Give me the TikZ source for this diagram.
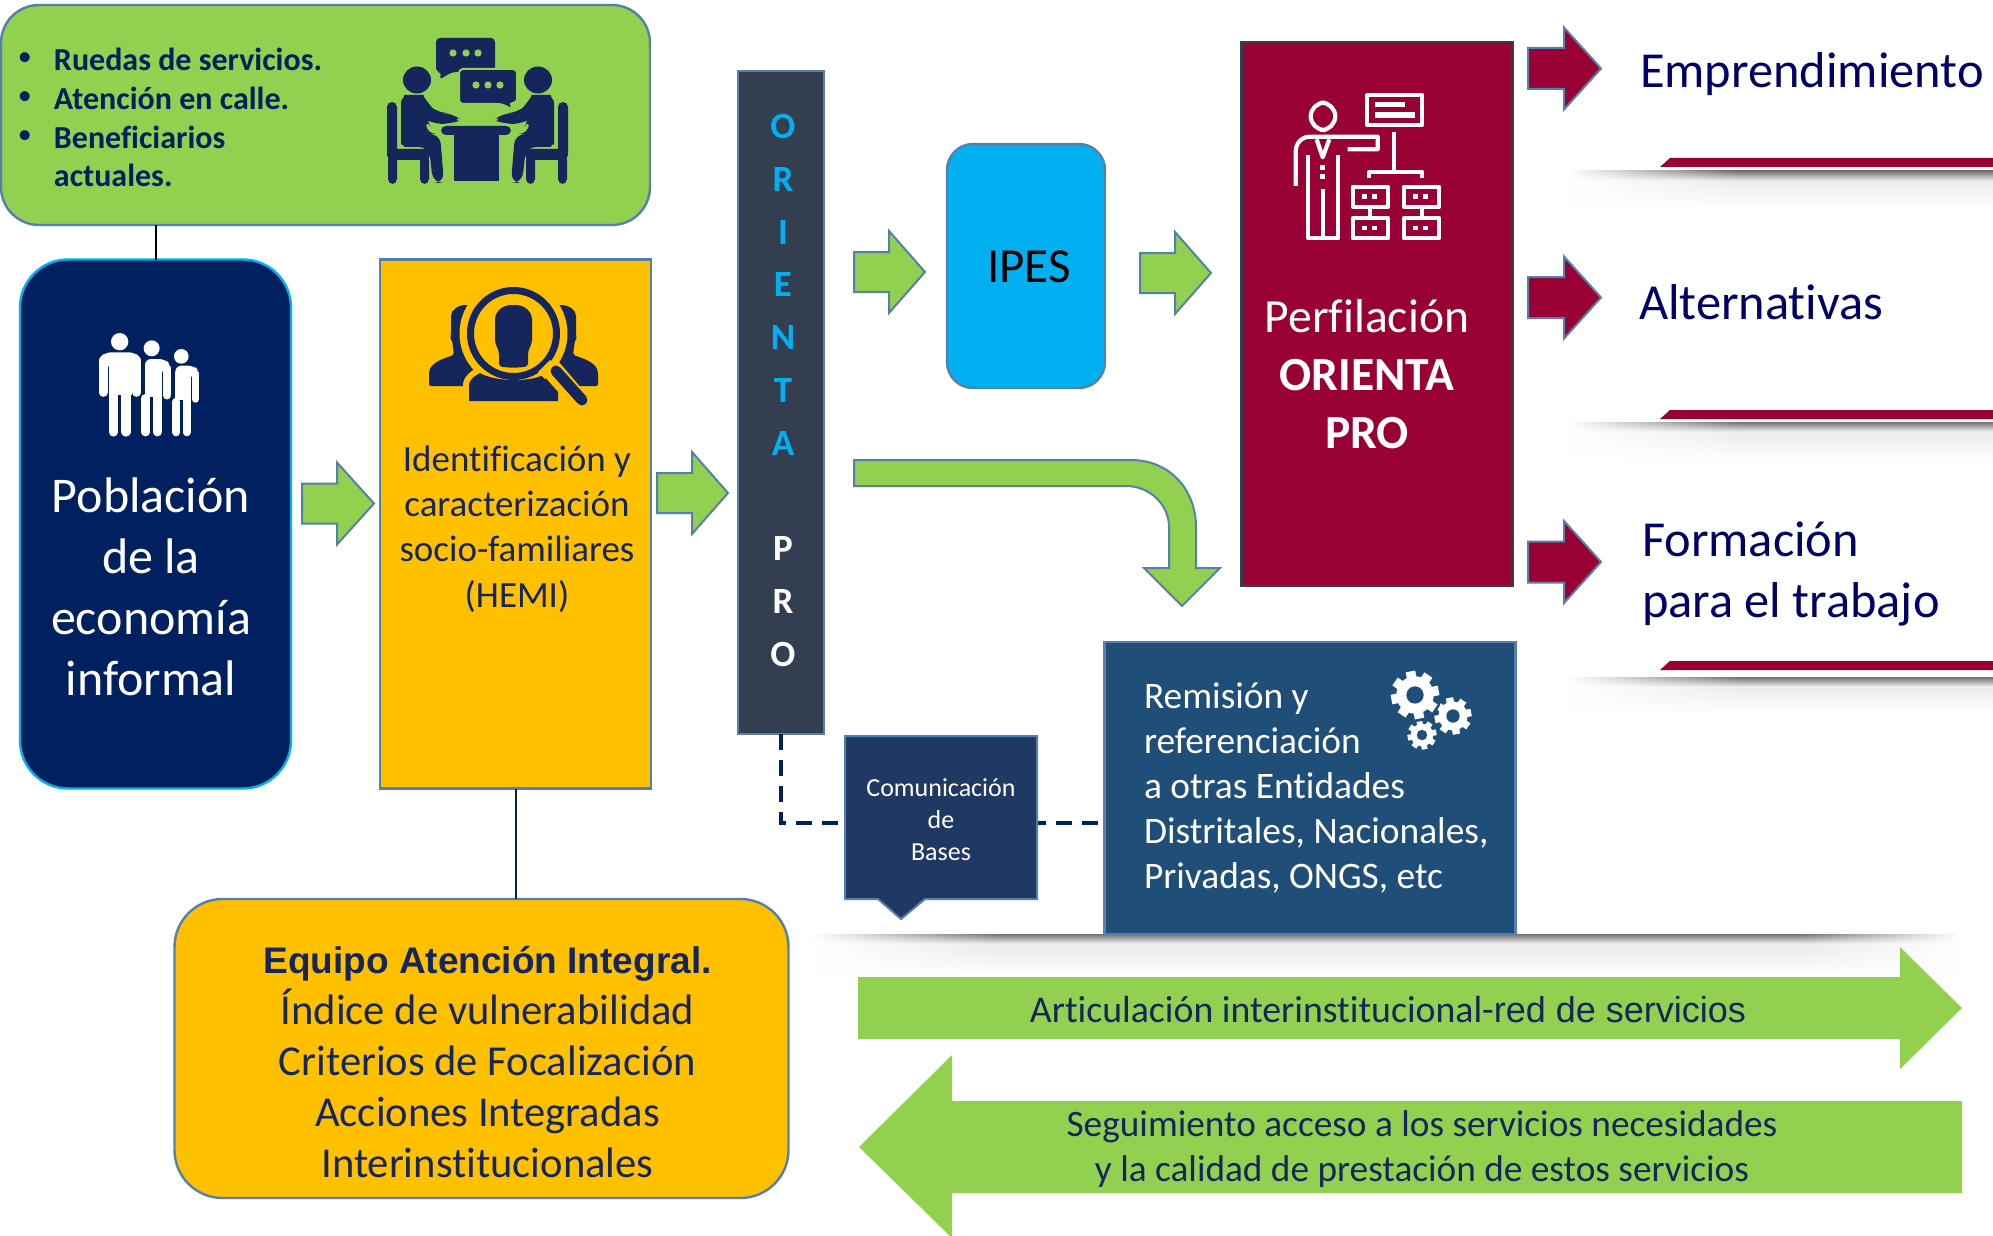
\documentclass[tikz,border=0pt]{standalone}
\usepackage{fontspec}
\setmainfont[Ligatures={NoCommon,TeX}]{Carlito}
\newfontfamily\arialf{Liberation Sans}
\usetikzlibrary{fadings}
\definecolor{cgreen}{HTML}{92D050}
\definecolor{cedge}{HTML}{5580AB}
\definecolor{cnavy}{HTML}{002060}
\definecolor{cink}{HTML}{14265C}
\definecolor{ccyan}{HTML}{00B0F0}
\definecolor{corange}{HTML}{FFC000}
\definecolor{cslate}{HTML}{333F50}
\definecolor{cred}{HTML}{990033}
\definecolor{cteal}{HTML}{1F4E79}
\definecolor{ccomm}{HTML}{1F3864}
\definecolor{ctitle}{HTML}{000066}
\tikzset{
  boxbase/.style={draw=cedge,line width=1.2pt,inner sep=0pt,outer sep=0pt,rectangle},
  txt/.style={inner sep=0pt,outer sep=0pt,align=center},
  garrow/.style={fill=cgreen,draw=cedge,line width=1pt,line join=miter},
  rarrowst/.style={fill=cred,draw=cedge,line width=1pt,line join=miter},
  barrow/.style={fill=cgreen,draw=none},
  wline/.style={draw=white,line width=2.1pt,line join=round},
  wfill/.style={fill=white,draw=none}
}
% right-pointing block arrow: x0, x tip, x head base, y centre, half body, half head
\newcommand{\blockright}[7]{\path[#1] (#2,#5-#6) -- (#4,#5-#6) -- (#4,#5-#7) -- (#3,#5) -- (#4,#5+#7) -- (#4,#5+#6) -- (#2,#5+#6) -- cycle;}
% shadow under a bar
\newcommand{\shadowbar}[3]{%
  \shade[top color=black!55,bottom color=white] (#1,#3) rectangle (#2,#3+11);
  \shade[top color=black!7,bottom color=white] (#1,#3+11) rectangle (#2,#3+38);
  \fill[white,path fading=east] (#1-1,#3-1) rectangle (#1+170,#3+39);}
% gear
\newcommand{\gearicon}[3]{%
  \begin{scope}[shift={(#1,#2)}]
    \fill[cteal] (0,0) circle [radius=1.12*#3];
    \foreach \a in {0,45,...,315}{\fill[white,rotate=\a+11] (-0.2*#3,0) rectangle (0.2*#3,1.0*#3);}
    \fill[white] (0,0) circle [radius=0.78*#3];
    \fill[cteal] (0,0) circle [radius=0.36*#3];
  \end{scope}}
% seated person of the meeting icon (real pixels, left-hand one)
\newcommand{\seated}{%
  \fill[cink] (423,80) ellipse [x radius=14,y radius=13.5];
  \fill[cink,rounded corners=5pt] (407,112) .. controls (407,100) and (412,95) .. (420,95) .. controls (428,95) and (432,100) .. (436,106) -- (443,113) -- (458,113) .. controls (462,116) and (462,122) .. (456,124) -- (440,124) .. controls (436,122) and (433,120) .. (432,118) -- (432,134) -- (446,134) -- (450,183) -- (439,183) -- (435,147) -- (420,147) .. controls (411,147) and (407,142) .. (407,135) -- cycle;
  \fill[cink,rounded corners=2.5pt] (393,102) rectangle (403,158);
  \fill[cink,rounded corners=2.5pt] (393,149) rectangle (436,160);
  \fill[cink,rounded corners=2.5pt] (394,155) rectangle (403,184);
  \fill[cink,rounded corners=2.5pt] (426,155) rectangle (435,184);}
% side person of the search icon
\newcommand{\sideperson}{%
  \fill[cink,rounded corners=1pt] (429,386) -- (429,372) .. controls (432,362) and (445,358) .. (454,355) -- (452,340) .. controls (450,338) and (451,336) .. (451,330) -- (451,318) .. controls (451,310) and (458,305) .. (468,305) -- (490,305) -- (490,386) -- cycle;}
\begin{document}
\begin{tikzpicture}[x=0.5pt,y=-0.5pt]
\useasboundingbox (0,0) rectangle (1993,1236);
\fill[white] (0,0) rectangle (1993,1236);

% shadows and red bars
\shadowbar{1569}{1993}{171}
\shadowbar{1569}{1993}{422}
\shadowbar{1569}{1993}{677}
\fill[cred] (1660,167) -- (1670,158) -- (1993,158) -- (1993,167) -- cycle;
\fill[cred] (1660,419) -- (1670,410) -- (1993,410) -- (1993,419) -- cycle;
\fill[cred] (1660,670) -- (1670,661) -- (1993,661) -- (1993,670) -- cycle;
\shade[top color=black!55,bottom color=white] (813,934) rectangle (1960,945);
\shade[top color=black!8,bottom color=white] (813,945) rectangle (1960,977);
\fill[white,path fading=east] (812,933) rectangle (1000,978);
\fill[white,path fading=west] (1800,933) rectangle (1961,978);

% boxes
\node[boxbase,fill=cgreen,minimum width=324.5pt,minimum height=110pt,rounded corners=19pt] (top) at (325.5,115) {};
\node[boxbase,fill=cnavy,draw=ccyan,minimum width=135.5pt,minimum height=264.5pt,rounded corners=24pt] (pop) at (155.5,524) {};
\node[boxbase,fill=corange,minimum width=135.5pt,minimum height=264.5pt] (ident) at (515.5,524) {};
\node[boxbase,fill=cslate,minimum width=43pt,minimum height=331.5pt] (orienta) at (781,402.5) {};
\node[boxbase,fill=ccyan,minimum width=79pt,minimum height=122pt,rounded corners=13pt] (ipes) at (1026,266) {};
\node[boxbase,fill=cred,draw=cslate,minimum width=135.5pt,minimum height=272pt] (perf) at (1377,314) {};
\node[boxbase,fill=corange,minimum width=307pt,minimum height=149.5pt,rounded corners=24pt] (equipo) at (481.5,1048.5) {};

% connectors
\coordinate (dashy) at (0,823);
\draw[black,line width=1pt] (pop.north) -- (pop.north |- top.south);
\draw[cnavy,line width=1pt] (ident.south) -- (ident.south |- equipo.north);
\node[boxbase,fill=cteal,minimum width=205.5pt,minimum height=146pt] (remi) at (1310,788) {};
\draw[cnavy,line width=2pt,dash pattern=on 8pt off 5pt] (orienta.south) |- ([xshift=-3pt]dashy -| remi.west);
\path[fill=ccomm,draw=cedge,line width=1pt] (845,736) -- (1037,736) -- (1037,899) -- (925,899) -- (901,919) -- (878,899) -- (845,899) -- cycle;
\node[inner sep=0pt,outer sep=0pt,minimum width=96pt,minimum height=81pt] (comm) at (941,820) {};

% block arrows
\blockright{garrow}{302}{374}{337}{503.5}{20}{41}
\blockright{garrow}{657}{728}{692}{493}{20}{41}
\blockright{garrow}{854}{925}{889}{272}{20}{41}
\blockright{garrow}{1140}{1211}{1175}{273}{20}{41}
\blockright{rarrowst}{1528}{1601}{1564}{68.5}{20.5}{41}
\blockright{rarrowst}{1528}{1601}{1564}{297.5}{20.5}{41}
\blockright{rarrowst}{1528}{1601}{1564}{562}{20.5}{41}
\blockright{barrow}{858}{1962}{1900}{1008}{31}{61}
\path[barrow] (1962,1101) -- (952,1101) -- (952,1055) -- (859,1147) -- (952,1238) -- (952,1193) -- (1962,1193) -- cycle;
\path[garrow] (854,460) -- (1131,460) .. controls (1170,460) and (1196,490) .. (1196,527) -- (1196,568) -- (1220,568) -- (1182,606) -- (1144,568) -- (1169,568) -- (1169,527) .. controls (1169,505) and (1150,486) .. (1126,486) -- (854,486) -- cycle;

% texts
\node[txt,anchor=west,text=cnavy,font=\fontsize{16}{19.4}\selectfont\bfseries,align=left] (toptext) at (54,117.5) {Ruedas de servicios.\\Atención en calle.\\Beneficiarios\\actuales.};
\node[txt,anchor=north west,text=cnavy,font=\fontsize{14}{19.4}\selectfont,align=left] (topbullets) at (18,53) {•\\•\\•};
\node[txt,text=white,font=\fontsize{25}{30.5}\selectfont] (poptext) at (151,587) {Población\\de la\\economía\\informal};
\node[txt,text=cink,font=\fontsize{18.5}{22.6}\selectfont] (identtext) at (517,529) {Identificación y\\caracterización\\socio-familiares\\(HEMI)};
\node[txt,font=\fontsize{18.5}{26.4}\selectfont\bfseries] (orientatext) at (783,390.5) {\textcolor{ccyan}{O}\\\textcolor{ccyan}{R}\\\textcolor{ccyan}{I}\\\textcolor{ccyan}{E}\\\textcolor{ccyan}{N}\\\textcolor{ccyan}{T}\\\textcolor{ccyan}{A}\\\mbox{}\\\textcolor{white}{P}\\\textcolor{white}{R}\\\textcolor{white}{O}};
\node[txt,text=black,font=\fontsize{24.5}{28}\selectfont] (ipestext) at (1029,267) {IPES};
\node[txt,text=white,font=\fontsize{23.8}{29}\selectfont] (perftext) at (1367,374) {Perfilación\\\textbf{ORIENTA}\\\textbf{PRO}};
\node[txt,anchor=west,text=ctitle,font=\fontsize{25.2}{30.5}\selectfont] (t1) at (1640,74) {Emprendimiento};
\node[txt,anchor=west,text=ctitle,font=\fontsize{25.2}{30.5}\selectfont] (t2) at (1639,302) {Alternativas};
\node[txt,anchor=west,align=left,text=ctitle,font=\fontsize{25.2}{30.5}\selectfont] (t3) at (1642,574) {Formación\\para el trabajo};
\node[txt,anchor=west,align=left,text=white,font=\fontsize{18.7}{22.6}\selectfont] (remitext) at (1144,788) {Remisión y\\referenciación\\a otras Entidades\\Distritales, Nacionales,\\Privadas, ONGS, etc};
\node[txt,text=white,font=\fontsize{13}{16}\selectfont] at (comm.center) {Comunicación\\de\\Bases};
\node[txt,text=cink,font=\fontsize{21.3}{25.5}\selectfont] (equipotext) at (487.5,1062) {{\arialf\bfseries\fontsize{18.5}{25.5}\selectfont Equipo Atención Integral.}\\Índice de vulnerabilidad\\Criterios de Focalización\\Acciones Integradas\\Interinstitucionales};
\node[txt,text=cink,font=\fontsize{18.9}{22}\selectfont] (arttext) at (1388,1010) {Articulación interinstitucional-{\arialf\fontsize{18}{22}\selectfont red de servicios}};
\node[txt,text=cink,font=\fontsize{18.65}{22.6}\selectfont] (segtext) at (1422,1149) {Seguimiento acceso a los servicios necesidades\\y la calidad de prestación de estos servicios};

% family icon
\begin{scope}[shift={(60,300)},scale=1/3]
  \fill[white] (179,125) circle [radius=26];
  \fill[white] (275,145) circle [radius=24];
  \fill[white] (364,169) circle [radius=22];
  \tikzset{famlimb/.style={white,line cap=round,line join=round}}
  \fill[white,rounded corners=3pt] (118,200) -- (118,175) -- (135,157) -- (225,157) -- (242,175) -- (242,200) -- cycle;
  \draw[famlimb,line width=4.2pt] (130,180) -- (130,278);
  \draw[famlimb,line width=4.2pt] (230,180) -- (230,278);
  \fill[white] (147,165) rectangle (216,285);
  \draw[famlimb,line width=4.6pt] (160,280) -- (160,396);
  \draw[famlimb,line width=4.6pt] (198,280) -- (198,396);
  \fill[white,rounded corners=3pt] (255,177) -- (315,177) -- (332,195) -- (332,215) -- (255,215) -- cycle;
  \fill[white] (255,200) rectangle (305,290);
  \draw[famlimb,line width=3.8pt] (321,205) -- (321,287);
  \draw[famlimb,line width=4.4pt] (257,295) -- (257,396);
  \draw[famlimb,line width=4.4pt] (292,290) -- (292,396);
  \fill[white,rounded corners=3pt] (346,197) -- (402,197) -- (416,212) -- (416,230) -- (346,230) -- cycle;
  \fill[white] (346,215) rectangle (392,300);
  \draw[famlimb,line width=3.4pt] (406,222) -- (406,298);
  \draw[famlimb,line width=4pt] (349,305) -- (349,397);
  \draw[famlimb,line width=4pt] (380,295) -- (380,397);
\end{scope}

% meeting icon
\begin{scope}[xshift=-3pt]
\seated
\begin{scope}[xshift=967*0.5pt,xscale=-1]\seated\end{scope}
\fill[cink,rounded corners=2.5pt] (447,126) rectangle (517,135);
\fill[cink] (460,130) rectangle (505,181);
\fill[cink,rounded corners=2pt] (442,38) -- (501,38) -- (501,72) -- (458,72) -- (445,80) -- (448,72) -- (442,72) -- cycle;
\fill[cink,rounded corners=2pt,draw=cgreen,line width=1pt] (465,69) -- (523,69) -- (523,103) -- (515,103) -- (521,111) -- (508,104) -- (465,104) -- cycle;
\foreach \dx in {459,472,484}{\fill[cgreen] (\dx,53) circle [radius=3.6];}
\foreach \dx in {482,494,506}{\fill[cgreen] (\dx,85) circle [radius=3.6];}
\end{scope}

% search icon
\sideperson
\begin{scope}[xshift=1027*0.5pt,xscale=-1]\sideperson\end{scope}
\fill[corange] (513.5,333.5) circle [radius=54];
\draw[corange,line width=8.5pt,line cap=round] (552,367) -- (582,402);
\draw[corange,line width=6pt,line join=round] (469,401) -- (469,384) .. controls (470,380) and (474,376) .. (480,373) .. controls (495,382) and (530,382) .. (543,375) -- (558,392) -- (558,401);
\fill[cink] (469,401) -- (469,384) .. controls (470,380) and (474,376) .. (480,373) .. controls (495,382) and (530,382) .. (543,375) -- (558,392) -- (558,401) -- cycle;
\draw[cink,line width=3.5pt] (513.5,333.5) circle [radius=43];
\draw[corange,line width=8.5pt] (544,366) -- (551,373);
\draw[cink,line width=5.5pt,line cap=round] (556,371) -- (582,400);
\fill[cink,rounded corners=1pt] (499,366) -- (499,352) -- (497,347) -- (495,342) -- (495,322) .. controls (495,311) and (503,305) .. (513.5,305) .. controls (524,305) and (532,311) .. (532,322) -- (532,342) -- (530,347) -- (528,352) -- (528,366) .. controls (520,368) and (507,368) .. (499,366) -- cycle;

% profiling icon
\begin{scope}[shift={(1270,70)},scale=1/3]
  \draw[wline,rounded corners=7pt] (122,98) rectangle (196,180);
  \draw[wline] (292,75) rectangle (456,165);
  \fill[white] (315,96) rectangle (405,110);
  \fill[white] (315,127) rectangle (435,143);
  \draw[wline] (373,186) -- (373,300);
  \draw[wline] (298,325) -- (298,305) -- (456,305) -- (456,325);
  \foreach \bx in {248,402}{
    \foreach \by in {350,445}{
      \draw[wline] (\bx,\by) rectangle ++(106,60);
      \fill[white] (\bx+28,\by+22) rectangle ++(14,14);
      \fill[white] (\bx+58,\by+22) rectangle ++(14,14);
    }
    \draw[wline] (\bx+53,410) -- (\bx+53,445);
  }
  \draw[wline] (77,348) -- (77,245) .. controls (77,220) and (95,200) .. (120,200) -- (323,200) -- (323,238) -- (233,238);
  \draw[wline] (140,208) -- (158,262) -- (178,208);
  \fill[white] (149,284) rectangle ++(16,16);
  \fill[white] (149,312) rectangle ++(16,16);
  \draw[wline] (115,255) -- (115,505) -- (205,505) -- (205,255);
  \draw[wline] (158,358) -- (158,505);
\end{scope}

% gears
\gearicon{1422}{735}{14.5}
\gearicon{1453}{716}{18.5}
\gearicon{1415}{695}{24}
\end{tikzpicture}
\end{document}
